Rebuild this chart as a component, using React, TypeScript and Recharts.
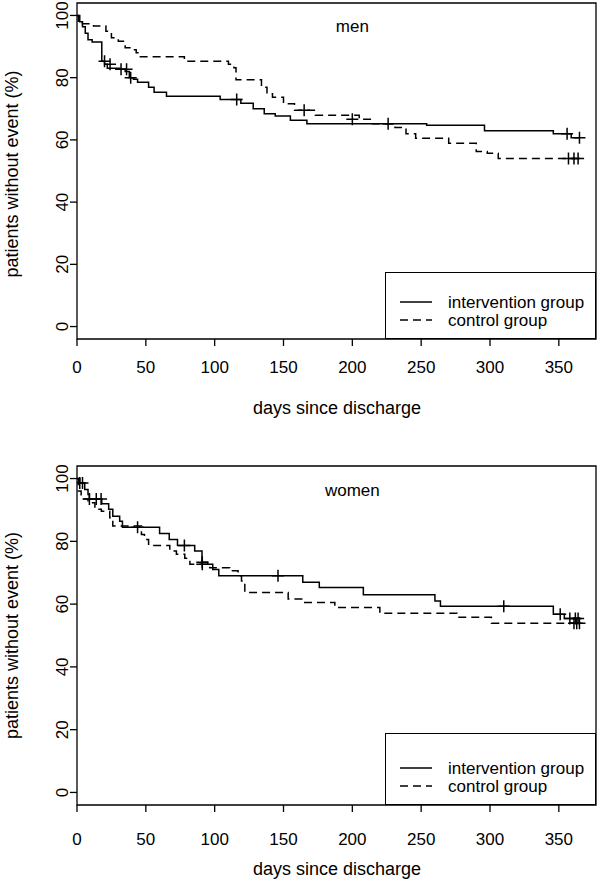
import React from "react"
import { ComposedChart, Line, Scatter, XAxis, YAxis, ReferenceArea, ReferenceDot, Legend } from "recharts"

const FONT = "'Liberation Sans', Arial, Helvetica, sans-serif"

const X_TICKS = [0, 50, 100, 150, 200, 250, 300, 350]
const Y_TICKS = [0, 20, 40, 60, 80, 100]
const X_MAX = 377
const Y_MIN = -4
const Y_MAX = 104

const X_LABEL = "days since discharge"
const Y_LABEL = "patients without event (%)"
const SERIES_NAMES = ["intervention group", "control group"]

// men, intervention group (Kaplan-Meier steps)
const menIntDays = [0, 2, 4, 6, 8, 11, 18, 20, 22, 31, 35, 38, 41, 44, 52, 56, 65, 104, 119, 128, 136, 144, 155, 167, 254, 296, 346, 359, 365]
const menIntSurv = [100, 98, 96.4, 94.3, 92.2, 91.5, 85.3, 84.3, 83, 82.7, 82, 80, 79.5, 78.5, 76.9, 75.3, 74, 73, 71.8, 70, 68.4, 67.7, 66.3, 65.2, 64.7, 62.9, 62, 60.7, 60.7]
const menIntCensDays = [20, 24, 32, 36, 39, 116, 356, 365]
const menIntCensSurv = [85.3, 84.3, 82.7, 82.7, 80, 73, 62, 60.7]

// men, control group
const menCtlDays = [0, 1, 12, 21, 25, 30, 35, 40, 43, 45, 78, 110, 114, 115.5, 134, 138, 142, 150, 158, 173, 205, 214, 231, 239, 246, 270, 290, 298, 306, 364]
const menCtlSurv = [100, 97.3, 96.6, 94.9, 92.8, 91.7, 89.6, 89, 88, 86.7, 85.3, 84.3, 83.2, 79.3, 76.9, 74.8, 73.7, 71.6, 69.5, 67.9, 66.6, 65.2, 64, 62, 60.5, 58.9, 56.3, 55.7, 54, 54]
const menCtlCensDays = [165, 200, 226, 357, 361, 364]
const menCtlCensSurv = [69.5, 66.6, 65.2, 54, 54, 54]

// women, intervention group
const womenIntDays = [0, 2, 5.6, 8, 9, 18, 23, 26, 31, 33, 60, 67, 73, 85.5, 90.8, 95, 98.6, 103, 164, 176, 208, 260, 264, 346, 354, 365]
const womenIntSurv = [100, 98.6, 96.5, 94.9, 93.5, 92, 90.2, 88, 86.4, 84.5, 82.5, 80.6, 78.7, 76.9, 73.3, 72.7, 71, 69, 67, 65.3, 63, 61, 59.3, 56.8, 55.4, 55.4]
const womenIntCensDays = [2, 4, 9, 14, 17.5, 44, 78, 91, 146, 310, 351, 358, 362, 364]
const womenIntCensSurv = [98.6, 98.6, 93.5, 93.5, 93.5, 84.5, 78.7, 73.3, 69, 59.3, 56.8, 55.4, 55.4, 55.4]

// women, control group
const womenCtlDays = [0, 1, 3, 8, 13, 17.7, 23.8, 26, 46.8, 49, 52, 67.4, 72.2, 78.3, 82, 96.4, 111, 117, 119.5, 121.9, 153.4, 164, 187.3, 220, 276, 301, 364]
const womenCtlSurv = [100, 96, 93.5, 92.3, 90.2, 89.6, 87.5, 84.9, 82.2, 80.6, 78.7, 76.9, 75.9, 74.6, 72.7, 71.6, 70.6, 69, 67.4, 63.7, 61.6, 60.5, 58.9, 57.1, 55.8, 53.9, 53.9]
const womenCtlCensDays = [91, 361, 363, 365]
const womenCtlCensSurv = [72.7, 53.9, 53.9, 53.9]

const toPoints = (days: number[], surv: number[]) => days.map((d, i) => ({ d, v: surv[i] }))

const DASH = "8 5"

const Plus = (props: any) => {
  const { cx, cy } = props
  if (cx == null || cy == null) return null
  return <path d={`M${cx - 6},${cy}h12M${cx},${cy - 6}v12`} stroke="#000" strokeWidth={1.5} fill="none" />
}

const makeXTick = (dy: number) => (props: any) => {
  const { x, y, payload } = props
  return (
    <text x={x} y={y + dy} textAnchor="middle" fontSize={17} fontFamily={FONT} fill="#000">
      {payload.value}
    </text>
  )
}

const YTick = (props: any) => {
  const { y, payload } = props
  return (
    <text x={68} y={y} transform={`rotate(-90, 68, ${y})`} textAnchor="middle" fontSize={17} fontFamily={FONT} fill="#000">
      {payload.value}
    </text>
  )
}

const makeLegend = (h: number) => () => (
  <div style={{ width: 211, height: h, boxSizing: "border-box", border: "1.3px solid #000", background: "#fff" }}>
    <svg width={209} height={h - 2} style={{ display: "block" }}>
      {SERIES_NAMES.map((name, i) => {
        const ly = h - 38 + i * 18
        return (
          <g key={name}>
            <line x1={14} x2={46} y1={ly} y2={ly} stroke="#000" strokeWidth={1.5} strokeDasharray={i === 1 ? DASH : undefined} />
            <text x={62} y={ly} dominantBaseline="central" fontSize={17} fontFamily={FONT} fill="#000">
              {name}
            </text>
          </g>
        )
      })}
    </svg>
  </div>
)

interface PanelProps {
  title: string
  top: number
  height: number
  plotTop: number
  plotBottom: number
  tickDy: number
  titleDy: number
  ylabShift: number
  legendTop: number
  intLine: { d: number; v: number }[]
  ctlLine: { d: number; v: number }[]
  intCens: { d: number; v: number }[]
  ctlCens: { d: number; v: number }[]
}

function Panel(p: PanelProps) {
  const axisHeight = p.height - p.plotBottom
  const legendH = p.plotBottom - p.legendTop
  const midY = (p.plotTop + p.plotBottom) / 2 + p.ylabShift
  const XTick = makeXTick(p.tickDy)
  const LegendBox = makeLegend(legendH)
  return (
    <div style={{ position: "absolute", left: 0, top: p.top, width: 600, height: p.height }}>
      <ComposedChart width={600} height={p.height} margin={{ top: p.plotTop, right: 4, bottom: 0, left: 0 }}>
        <XAxis
          type="number"
          dataKey="d"
          domain={[0, X_MAX]}
          ticks={X_TICKS}
          allowDataOverflow
          axisLine={false}
          tickLine={{ stroke: "#000", strokeWidth: 1.3 }}
          tickSize={7}
          tick={<XTick />}
          height={axisHeight}
        />
        <YAxis
          type="number"
          dataKey="v"
          domain={[Y_MIN, Y_MAX]}
          ticks={Y_TICKS}
          allowDataOverflow
          axisLine={false}
          tickLine={{ stroke: "#000", strokeWidth: 1.3 }}
          tickSize={7}
          tick={<YTick />}
          width={77}
        />
        <ReferenceArea x1={0} x2={X_MAX} y1={Y_MIN} y2={Y_MAX} fill="none" stroke="#000" strokeWidth={1.3} ifOverflow="visible" />
        <Line data={p.intLine} dataKey="v" name={SERIES_NAMES[0]} type="stepAfter" stroke="#000" strokeWidth={1.5} dot={false} isAnimationActive={false} />
        <Line data={p.ctlLine} dataKey="v" name={SERIES_NAMES[1]} type="stepAfter" stroke="#000" strokeWidth={1.5} strokeDasharray={DASH} dot={false} isAnimationActive={false} />
        <Scatter data={p.intCens} dataKey="v" shape={<Plus />} legendType="none" isAnimationActive={false} />
        <Scatter data={p.ctlCens} dataKey="v" shape={<Plus />} legendType="none" isAnimationActive={false} />
        <ReferenceDot
          x={200}
          y={96.5}
          r={0}
          fill="none"
          stroke="none"
          label={{ value: p.title, position: "center", fontSize: 17, fontFamily: FONT, fill: "#000" }}
        />
        <Legend
          layout="vertical"
          align="center"
          verticalAlign="middle"
          content={<LegendBox />}
          wrapperStyle={{ left: 385, top: p.legendTop, width: 211, height: legendH }}
        />
        <text x={337} y={p.plotBottom + p.titleDy} textAnchor="middle" fontSize={18} fontFamily={FONT} fill="#000">
          {X_LABEL}
        </text>
        <text x={18} y={midY} transform={`rotate(-90, 18, ${midY})`} textAnchor="middle" fontSize={18} fontFamily={FONT} fill="#000">
          {Y_LABEL}
        </text>
      </ComposedChart>
    </div>
  )
}

export default function App() {
  return (
    <div style={{ position: "absolute", left: 0, top: 0, width: 600, height: 883, background: "#fff", fontFamily: FONT }}>
      <Panel
        title="men"
        top={0}
        height={441}
        plotTop={3}
        plotBottom={339}
        tickDy={25}
        titleDy={75}
        ylabShift={3}
        legendTop={272}
        intLine={toPoints(menIntDays, menIntSurv)}
        ctlLine={toPoints(menCtlDays, menCtlSurv)}
        intCens={toPoints(menIntCensDays, menIntCensSurv)}
        ctlCens={toPoints(menCtlCensDays, menCtlCensSurv)}
      />
      <Panel
        title="women"
        top={441}
        height={442}
        plotTop={25}
        plotBottom={364}
        tickDy={31}
        titleDy={70}
        ylabShift={0}
        legendTop={292}
        intLine={toPoints(womenIntDays, womenIntSurv)}
        ctlLine={toPoints(womenCtlDays, womenCtlSurv)}
        intCens={toPoints(womenIntCensDays, womenIntCensSurv)}
        ctlCens={toPoints(womenCtlCensDays, womenCtlCensSurv)}
      />
    </div>
  )
}
